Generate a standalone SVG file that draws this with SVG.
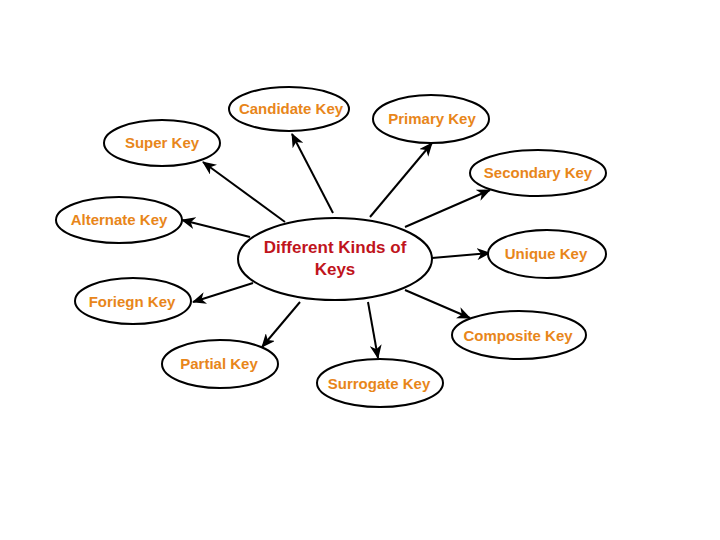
<svg xmlns="http://www.w3.org/2000/svg" width="720" height="540" viewBox="0 0 720 540">
<style>
.n ellipse{fill:#fff;stroke:#000;stroke-width:2}
.n text{font-family:"Liberation Sans",Arial,sans-serif;font-weight:bold;font-size:15px;fill:#e8861a;text-anchor:middle}
#center text{fill:#c0141c;font-size:17px}
#edges line{stroke:#000;stroke-width:2;marker-end:url(#ah)}
</style>
<defs>
<marker id="ah" viewBox="0 0 14 12" refX="13" refY="6" markerWidth="14" markerHeight="12" markerUnits="userSpaceOnUse" orient="auto">
<path d="M0,0 L14,6 L0,12 L4,6 z" fill="#000"/>
</marker>
</defs>
<rect width="720" height="540" fill="#fff"/>
<g id="edges">
<line x1="285" y1="222" x2="203" y2="162"/>
<line x1="250" y1="237" x2="182" y2="220"/>
<line x1="333" y1="213" x2="292" y2="134"/>
<line x1="370" y1="217" x2="432" y2="143"/>
<line x1="405" y1="227" x2="490" y2="190"/>
<line x1="432" y1="258" x2="490" y2="253"/>
<line x1="253" y1="283" x2="193" y2="302"/>
<line x1="300" y1="302" x2="262" y2="347"/>
<line x1="368" y1="302" x2="378" y2="358"/>
<line x1="405" y1="290" x2="470" y2="318"/>
</g>
<g id="center" class="n">
<ellipse cx="335" cy="259" rx="97" ry="41"/>
<text x="335" y="253">Different Kinds of</text>
<text x="335" y="275">Keys</text>
</g>
<g id="super" class="n">
<ellipse cx="162" cy="143" rx="58" ry="23"/>
<text x="162" y="148">Super Key</text>
</g>
<g id="alternate" class="n">
<ellipse cx="119" cy="220" rx="63" ry="23"/>
<text x="119" y="225">Alternate Key</text>
</g>
<g id="candidate" class="n">
<ellipse cx="289" cy="109" rx="60" ry="22"/>
<text x="291" y="114">Candidate Key</text>
</g>
<g id="primary" class="n">
<ellipse cx="431" cy="119" rx="58" ry="24"/>
<text x="432" y="124">Primary Key</text>
</g>
<g id="secondary" class="n">
<ellipse cx="538" cy="173" rx="68" ry="23"/>
<text x="538" y="178">Secondary Key</text>
</g>
<g id="unique" class="n">
<ellipse cx="547" cy="254" rx="59" ry="24"/>
<text x="546" y="259">Unique Key</text>
</g>
<g id="foriegn" class="n">
<ellipse cx="133" cy="301" rx="58" ry="23"/>
<text x="132" y="307">Foriegn Key</text>
</g>
<g id="partial" class="n">
<ellipse cx="220" cy="364" rx="58" ry="24"/>
<text x="219" y="369">Partial Key</text>
</g>
<g id="composite" class="n">
<ellipse cx="519" cy="335" rx="67" ry="24"/>
<text x="518" y="341">Composite Key</text>
</g>
<g id="surrogate" class="n">
<ellipse cx="380" cy="383" rx="63" ry="24"/>
<text x="379" y="389">Surrogate Key</text>
</g>
</svg>
